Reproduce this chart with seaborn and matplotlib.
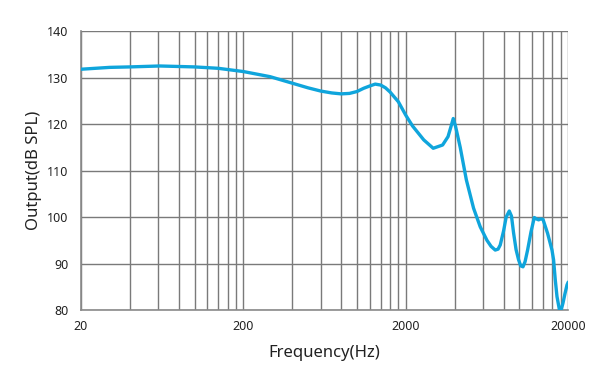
import numpy as np
import pandas as pd
import matplotlib
matplotlib.use('Agg')
import matplotlib.pyplot as plt
import seaborn as sns

# frequency response
freq_hz = [20, 30, 40, 61, 100, 140, 200, 292, 400, 500, 600, 700, 800, 900, 1000,
           1100, 1200, 1296, 1400, 1500, 1600, 1800, 2000, 2200, 2580, 2950,
           3370, 3640, 3820, 3920, 4050, 4326, 4720, 5228, 5746, 6320, 6700,
           7110, 7400, 7632, 8000, 8300, 8672, 8950, 9218, 9550, 9898, 10200,
           10534, 10850, 11245, 11800, 12366, 12750, 13144, 13550, 13990,
           14932, 15894, 16256, 16650, 17062, 17628, 18100, 18574, 19100,
           19662, 20000]
output_db = [131.8, 132.2, 132.3, 132.5, 132.3, 132.0, 131.3, 130.2, 128.8, 127.8,
             127.1, 126.7, 126.5, 126.6, 127.0, 127.7, 128.2, 128.6, 128.4,
             127.8, 126.9, 124.8, 121.9, 119.6, 116.6, 114.8, 115.5, 117.3,
             119.8, 121.2, 119.5, 115.0, 108.0, 101.9, 97.9, 95.0, 93.7, 92.9,
             93.1, 94.0, 97.0, 100.0, 101.3, 100.2, 96.6, 93.0, 90.8, 89.5, 89.3,
             90.4, 92.9, 96.8, 99.9, 99.6, 99.4, 99.6, 99.5, 96.5, 92.9, 90.8,
             86.5, 82.9, 80.2, 80.0, 81.5, 83.5, 85.4, 86.0]

x_major = [20, 200, 2000, 20000]
x_major_labels = ['20', '200', '2000', '20000']
y_ticks = [80, 90, 100, 110, 120, 130, 140]

df = pd.DataFrame({'freq': freq_hz, 'db': output_db})

sns.set_style('white')
plt.rcParams['font.family'] = ['Noto Sans', 'DejaVu Sans']

fig = plt.figure(figsize=(6.09, 3.89), dpi=100)
ax = fig.add_axes([0.133, 0.203, 0.800, 0.717])

sns.lineplot(data=df, x='freq', y='db', ax=ax, color='#0fa5dc', linewidth=2.4, zorder=3)

ax.set_xscale('log')

# step-20 grid lines inside each decade: 40..180, 400..1800, 4000..18000
minor = []
for dec in [20, 200, 2000]:
    minor += [dec * k for k in range(2, 10)]
ax.set_xticks(x_major)
ax.set_xticklabels(x_major_labels)
ax.set_xticks(minor, minor=True)
ax.set_xticklabels([], minor=True)
ax.set_yticks(y_ticks)
ax.set_xlim(20, 20000)
ax.set_ylim(80, 140)

grid_col = '#7a7a7a'
ax.grid(True, which='major', axis='both', color=grid_col, linewidth=1.0)
ax.grid(True, which='minor', axis='x', color=grid_col, linewidth=1.0)
ax.tick_params(which='both', length=0, labelsize=9, colors='#222222')
ax.tick_params(axis='x', pad=7)
ax.tick_params(axis='y', pad=9)

for s in ['top', 'right']:
    ax.spines[s].set_visible(False)
for s in ['left', 'bottom']:
    ax.spines[s].set_color('#8a8a8a')
    ax.spines[s].set_linewidth(1.2)

ax.set_xlabel('Frequency(Hz)', fontsize=12, color='#222222', labelpad=9)
ax.set_ylabel('Output(dB SPL)', fontsize=12, color='#222222', labelpad=4)

fig.savefig('out.png', dpi=100)
